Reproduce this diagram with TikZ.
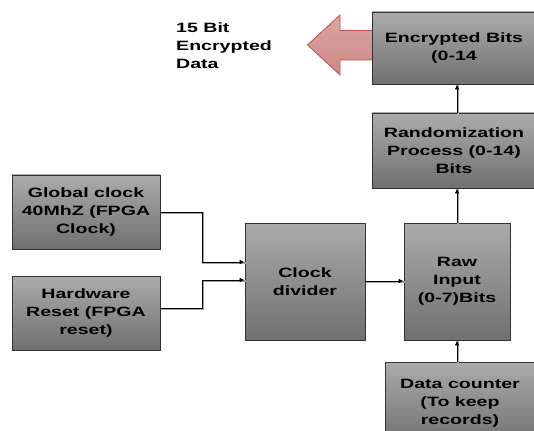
\documentclass[tikz,border=0pt]{standalone}
\usepackage{fontspec}
\newfontfamily\lbl{Liberation Sans}[FakeStretch=1.45]
\usetikzlibrary{arrows.meta}
\definecolor{boxtop}{HTML}{ABABAB}
\definecolor{boxbot}{HTML}{707070}
\definecolor{boxline}{HTML}{333333}
\definecolor{arrtop}{HTML}{DCA5A3}
\definecolor{arrbot}{HTML}{CC8886}
\definecolor{arrline}{HTML}{C0504D}
\definecolor{shadowgray}{HTML}{A0A0A0}
\begin{document}
\begin{tikzpicture}[x=1pt,y=-1pt,
  txt/.style={font=\lbl\bfseries\fontsize{13.5}{18}\selectfont, align=center, text=black},
  blk/.style={txt, draw=boxline, line width=0.9pt, top color=boxtop, bottom color=boxbot, inner sep=0pt},
  wire/.style={draw=black, line width=0.8pt, -{Latex[length=5pt,width=4.5pt]},
    preaction={draw=shadowgray, line width=1.4pt, -, transform canvas={xshift=1pt,yshift=-1pt}}}]
\useasboundingbox (0,0) rectangle (534,430);

% big output arrow
\draw[draw=arrline, line width=0.8pt, top color=arrtop, bottom color=arrbot]
  (373,30.5) -- (340,30.5) -- (340,15) -- (307.5,45) -- (340,75) -- (340,60) -- (373,60);

\node[blk, minimum width=164pt, minimum height=72pt] (eb) at (454,48) {Encrypted Bits\\(0-14};
\node[blk, minimum width=164pt, minimum height=75pt] (rp) at (454,150.5) {Randomization\\Process (0-14)\\Bits};
\node[blk, minimum width=148pt, minimum height=74pt] (gc) at (86,212) {Global clock\\40MhZ (FPGA\\Clock)};
\node[blk, minimum width=148pt, minimum height=74pt] (hr) at (86,313) {Hardware\\Reset (FPGA\\reset)};
\node[blk, minimum width=120pt, minimum height=117pt] (cd) at (305,281.5) {Clock\\divider};
\node[blk, minimum width=106pt, minimum height=117pt] (ri) at (457,281.5) {Raw\\Input\\(0-7)Bits};
\node[blk, minimum width=150pt, minimum height=83pt] (dc) at (460,403.5) {Data counter\\(To keep\\records)};

\node[txt, align=left, anchor=north west, inner sep=0pt] (lab) at (176,22.5) {15 Bit\\Encrypted\\Data};

\draw[wire] (gc.east) -- (202,212) -- (202,262) -- (cd.west |- 0,262);
\draw[wire] (hr.east |- 0,308) -- (202,308) -- (202,280) -- (cd.west |- 0,280);
\draw[wire] (cd.east |- 0,281) -- (ri.west |- 0,281);
\draw[wire] (ri.north |- dc.north) -- (ri.south);
\draw[wire] (ri.north) -- (ri.north |- rp.south);
\draw[wire] (ri.north |- rp.north) -- (ri.north |- eb.south);
\end{tikzpicture}
\end{document}
